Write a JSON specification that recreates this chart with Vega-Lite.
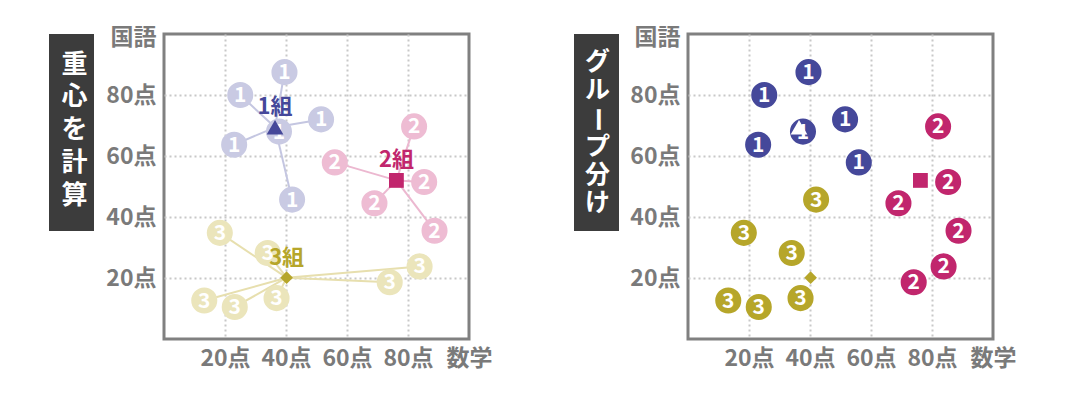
{
 "$schema": "https://vega.github.io/schema/vega-lite/v6.json",
 "padding": {"left": 49, "top": 24, "right": 5, "bottom": 5},
 "background": "white",
 "datasets": {
  "pts": [
   {"x": 39.5, "y": 87.5, "g1": 1, "g2": 1},
   {"x": 25, "y": 80, "g1": 1, "g2": 1},
   {"x": 51.5, "y": 72, "g1": 1, "g2": 1},
   {"x": 23, "y": 63.7, "g1": 1, "g2": 1},
   {"x": 42, "y": 45.7, "g1": 1, "g2": 3},
   {"x": 37.7, "y": 68, "g1": 1, "g2": 1},
   {"x": 82, "y": 69.7, "g1": 2, "g2": 2},
   {"x": 56, "y": 57.9, "g1": 2, "g2": 1},
   {"x": 85.3, "y": 51.5, "g1": 2, "g2": 2},
   {"x": 69, "y": 44.5, "g1": 2, "g2": 2},
   {"x": 88.7, "y": 35.5, "g1": 2, "g2": 2},
   {"x": 18.3, "y": 34.8, "g1": 3, "g2": 3},
   {"x": 34, "y": 28.2, "g1": 3, "g2": 3},
   {"x": 83.8, "y": 23.8, "g1": 3, "g2": 2},
   {"x": 74, "y": 18.6, "g1": 3, "g2": 2},
   {"x": 13.2, "y": 12.6, "g1": 3, "g2": 3},
   {"x": 23.2, "y": 10.5, "g1": 3, "g2": 3},
   {"x": 36.9, "y": 13.4, "g1": 3, "g2": 3}
  ],
  "cent": [
   {"g": 1, "x": 36.4, "y": 69.4, "label": "1組"},
   {"g": 2, "x": 76.2, "y": 52, "label": "2組"},
   {"g": 3, "x": 40.2, "y": 20.1, "label": "3組"}
  ]
 },
 "config": {
  "font": "Noto Sans CJK JP",
  "axis": {
   "labelFont": "Noto Sans CJK JP",
   "labelFontWeight": "bold",
   "labelFontSize": 23,
   "labelColor": "#7a7a7a",
   "domain": false,
   "ticks": false,
   "gridColor": "#c8c8c8",
   "gridDash": [2, 3],
   "gridWidth": 2,
   "labelFlush": false,
   "labelOverlap": false
  },
  "text": {"font": "Noto Sans CJK JP", "fontWeight": "bold"}
 },
 "spacing": 80,
 "hconcat": [
  {
   "spacing": 10,
   "hconcat": [
    {
     "width": 45, "height": 197,
     "view": {"fill": "#3c3c3c", "stroke": null},
     "data": {"values": [
      {"c": "重", "i": 0}, {"c": "心", "i": 1}, {"c": "を", "i": 2}, {"c": "計", "i": 3}, {"c": "算", "i": 4}
     ]},
     "mark": {"type": "text", "color": "white", "fontSize": 26, "dx": 3},
     "encoding": {
      "y": {"field": "i", "type": "ordinal", "axis": null, "scale": {"type": "point", "padding": 1.23, "align": 0.467}},
      "text": {"field": "c"}
     }
    },
    {
     "width": 305, "height": 305,
     "view": {"stroke": "#808080", "strokeWidth": 3, "fill": "white"},
     "encoding": {
      "x": {"field": "x", "type": "quantitative", "scale": {"domain": [0, 100]},
            "axis": {"title": null, "values": [20, 40, 60, 80, 100], "labelExpr": "datum.value == 100 ? '数学' : datum.value + '点'", "labelPadding": 8,
                     "gridOpacity": {"condition": {"test": "datum.value == 100", "value": 0}, "value": 1}}},
      "y": {"field": "y", "type": "quantitative", "scale": {"domain": [0, 100]},
            "axis": {"title": null, "values": [20, 40, 60, 80, 100], "labelExpr": "datum.value == 100 ? '国語' : datum.value + '点'", "labelPadding": 8,
                     "labelOffset": {"condition": {"test": "datum.value == 100", "value": 3}, "value": 0},
                     "gridOpacity": {"condition": {"test": "datum.value == 100", "value": 0}, "value": 1}}}
     },
     "layer": [
      {
       "data": {"name": "pts"},
       "transform": [{"lookup": "g1", "from": {"data": {"name": "cent"}, "key": "g", "fields": ["x", "y"]}, "as": ["cx", "cy"]}],
       "mark": {"type": "rule", "strokeWidth": 2},
       "encoding": {
        "x2": {"field": "cx"}, "y2": {"field": "cy"},
        "color": {"field": "g1", "type": "nominal", "scale": {"domain": [1, 2, 3], "range": ["#c4c6e1", "#ecb8d0", "#e7dfae"]}, "legend": null}
       }
      },
      {
       "data": {"name": "pts"},
       "mark": {"type": "circle", "size": 680, "opacity": 1},
       "encoding": {
        "color": {"field": "g1", "type": "nominal", "scale": {"domain": [1, 2, 3], "range": ["#c9cae3", "#eebcd3", "#ebe5bb"]}, "legend": null}
       }
      },
      {
       "data": {"name": "pts"},
       "mark": {"type": "text", "color": "white", "fontSize": 21, "dy": 1},
       "encoding": {"text": {"field": "g1", "type": "nominal"}}
      },
      {
       "data": {"name": "cent"},
       "mark": {"type": "point", "filled": true, "opacity": 1},
       "encoding": {
        "shape": {"field": "g", "type": "nominal", "scale": {"domain": [1, 2, 3], "range": ["triangle-up", "square", "diamond"]}, "legend": null},
        "size": {"field": "g", "type": "ordinal", "scale": {"domain": [1, 2, 3], "range": [280, 160, 220]}, "legend": null},
        "color": {"field": "g", "type": "nominal", "scale": {"domain": [1, 2, 3], "range": ["#45489a", "#c1266d", "#b6a62a"]}, "legend": null}
       }
      },
      {
       "data": {"name": "cent"},
       "mark": {"type": "text", "fontSize": 22, "dy": -20},
       "encoding": {
        "text": {"field": "label"},
        "color": {"field": "g", "type": "nominal", "scale": {"domain": [1, 2, 3], "range": ["#45489a", "#c1266d", "#b6a62a"]}, "legend": null}
       }
      }
     ],
     "resolve": {"scale": {"color": "independent"}}
    }
   ]
  },
  {
   "spacing": 9,
   "hconcat": [
    {
     "width": 45, "height": 197,
     "view": {"fill": "#3c3c3c", "stroke": null},
     "data": {"values": [
      {"c": "グ", "i": 0}, {"c": "ル", "i": 1}, {"c": "ー", "i": 2}, {"c": "プ", "i": 3}, {"c": "分", "i": 4}, {"c": "け", "i": 5}
     ]},
     "encoding": {
      "y": {"field": "i", "type": "ordinal", "axis": null, "scale": {"type": "point", "padding": 1.378, "align": 0.5}},
      "text": {"field": "c"}
     },
     "layer": [
      {"transform": [{"filter": "datum.c !== 'ー'"}], "mark": {"type": "text", "color": "white", "fontSize": 25, "dx": 1}},
      {"transform": [{"filter": "datum.c === 'ー'"}], "mark": {"type": "text", "color": "white", "fontSize": 25, "dx": 1, "angle": 90}}
     ]
    },
    {
     "width": 305, "height": 305,
     "view": {"stroke": "#808080", "strokeWidth": 3, "fill": "white"},
     "encoding": {
      "x": {"field": "x", "type": "quantitative", "scale": {"domain": [0, 100]},
            "axis": {"title": null, "values": [20, 40, 60, 80, 100], "labelExpr": "datum.value == 100 ? '数学' : datum.value + '点'", "labelPadding": 8,
                     "gridOpacity": {"condition": {"test": "datum.value == 100", "value": 0}, "value": 1}}},
      "y": {"field": "y", "type": "quantitative", "scale": {"domain": [0, 100]},
            "axis": {"title": null, "values": [20, 40, 60, 80, 100], "labelExpr": "datum.value == 100 ? '国語' : datum.value + '点'", "labelPadding": 8,
                     "labelOffset": {"condition": {"test": "datum.value == 100", "value": 3}, "value": 0},
                     "gridOpacity": {"condition": {"test": "datum.value == 100", "value": 0}, "value": 1}}}
     },
     "layer": [
      {
       "data": {"name": "pts"},
       "mark": {"type": "circle", "size": 680, "opacity": 1},
       "encoding": {
        "color": {"field": "g2", "type": "nominal", "scale": {"domain": [1, 2, 3], "range": ["#45489a", "#c1266d", "#b6a62a"]}, "legend": null}
       }
      },
      {
       "data": {"name": "pts"},
       "mark": {"type": "text", "color": "white", "fontSize": 21, "dy": 1},
       "encoding": {"text": {"field": "g2", "type": "nominal"}}
      },
      {
       "data": {"name": "cent"},
       "mark": {"type": "point", "filled": true, "opacity": 1},
       "encoding": {
        "shape": {"field": "g", "type": "nominal", "scale": {"domain": [1, 2, 3], "range": ["triangle-up", "square", "diamond"]}, "legend": null},
        "size": {"field": "g", "type": "ordinal", "scale": {"domain": [1, 2, 3], "range": [220, 160, 220]}, "legend": null},
        "color": {"field": "g", "type": "nominal", "scale": {"domain": [1, 2, 3], "range": ["#ffffff", "#c1266d", "#b6a62a"]}, "legend": null}
       }
      }
     ],
     "resolve": {"scale": {"color": "independent"}}
    }
   ]
  }
 ]
}
